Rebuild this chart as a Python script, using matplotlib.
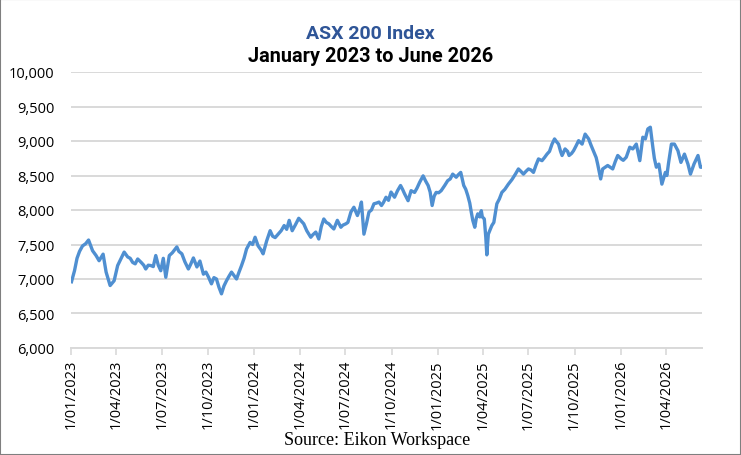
import matplotlib
matplotlib.use("Agg")
import matplotlib.pyplot as plt
import matplotlib.dates as mdates
from matplotlib.ticker import FuncFormatter, MultipleLocator
from matplotlib.patches import Rectangle
import pandas as pd

# ASX 200 closes, days counted from 1 Jan 2023
start = pd.Timestamp("2023-01-01")

day_offset = [
    1, 7, 12, 17, 23, 29, 35, 43, 50, 56, 64, 70, 74, 78, 86, 93, 100, 106,
    113, 118, 123, 128, 133, 140, 145, 149, 154, 159, 164, 169, 174, 179, 184,
    189, 196, 202, 211, 215, 221, 227, 234, 239, 244, 251, 257, 264, 269, 274,
    280, 285, 290, 295, 300, 305, 310, 315, 320, 325, 330, 335, 340, 345, 350,
    357, 362,
    367, 373, 379, 383, 390, 397, 402, 407, 413, 419, 425, 430, 435, 441, 447,
    454, 459, 464, 470, 478, 482, 488, 494, 499, 504, 509, 514, 519, 524, 531,
    538, 542, 548, 552, 558, 564, 571, 575, 579, 584, 589, 594, 599, 604, 609,
    614, 619, 623, 628, 633, 638, 645, 651, 657, 661, 665, 672, 678, 685, 690,
    695, 702, 707, 712, 716, 720, 724, 728,
    733, 738, 745, 751, 756, 761, 768, 772, 777, 780, 783, 787, 791, 795, 798,
    801, 805, 808, 811, 815, 818, 820, 824, 827, 829, 832, 839, 843, 849, 854,
    859, 865, 872, 879, 886, 892, 897, 902, 907, 912, 917, 922, 927, 932, 939,
    944, 949, 954, 959, 964, 968, 972, 976, 979, 985, 990, 993, 998, 1002,
    1007, 1012, 1019, 1025, 1032, 1037, 1044, 1047, 1050, 1056, 1060, 1065,
    1070, 1075, 1080, 1085, 1090,
    1097, 1101, 1107, 1114, 1120, 1127, 1134, 1140, 1145, 1150, 1155, 1160,
    1163, 1167, 1172, 1178, 1185, 1188, 1191, 1197, 1203, 1210, 1216, 1223,
    1230, 1235, 1242, 1250, 1255, 1258,
]

asx200 = [
    6960, 7120, 7300, 7400, 7480, 7510, 7565, 7410, 7340, 7265, 7360, 7100,
    7000, 6905, 6975, 7195, 7300, 7390, 7320, 7300, 7240, 7220, 7290, 7240,
    7200, 7145, 7200, 7195, 7180, 7340, 7200, 7120, 7300, 7025, 7340, 7380,
    7465, 7400, 7365, 7250, 7145, 7220, 7305, 7175, 7260, 7070, 7100, 7030,
    6930, 7020, 7000, 6880, 6785, 6900, 6975, 7040, 7100, 7050, 7000, 7100,
    7195, 7300, 7435, 7530, 7500,
    7605, 7480, 7420, 7365, 7550, 7700, 7620, 7600, 7650, 7700, 7775, 7720,
    7850, 7700, 7780, 7880, 7840, 7800, 7700, 7605, 7640, 7680, 7580, 7760,
    7870, 7820, 7800, 7760, 7725, 7850, 7750, 7780, 7800, 7820, 7970, 8040,
    7920, 8000, 8115, 7650, 7800, 7970, 8000, 8090, 8100, 8115, 8065, 8110,
    8185, 8140, 8260, 8185, 8280, 8355, 8300, 8235, 8135, 8280, 8255, 8320,
    8400, 8495, 8420, 8355, 8260, 8065, 8200, 8255,
    8250, 8280, 8355, 8425, 8450, 8520, 8475, 8510, 8545, 8450, 8355, 8300,
    8210, 8100, 7970, 7850, 7750, 7880, 7945, 7900, 7990, 7900, 7870, 7600,
    7350, 7650, 7775, 7820, 8090, 8160, 8255, 8300, 8375, 8440, 8520, 8595,
    8560, 8520, 8560, 8595, 8580, 8545, 8650, 8740, 8715, 8760, 8810, 8850,
    8955, 9030, 8990, 8955, 8850, 8790, 8885, 8850, 8790, 8820, 8860, 8930,
    9005, 8955, 9100, 9030, 8935, 8810, 8760, 8665, 8450, 8595, 8620, 8645,
    8620, 8595, 8700, 8790,
    8740, 8720, 8765, 8910, 8885, 8955, 8715, 9055, 9030, 9175, 9200, 8910,
    8750, 8620, 8665, 8375, 8545, 8500, 8665, 8955, 8955, 8860, 8690, 8810,
    8665, 8520, 8665, 8790, 8620, 8620,
]

dates = start + pd.to_timedelta(day_offset, unit="D")

W, H = 741, 456
fig = plt.figure(figsize=(W / 100, H / 100), dpi=100)
fig.patch.set_facecolor("white")

ax = fig.add_axes([71 / W, 1 - 349 / H, 631 / W, 276 / H])

grid_col = "#D9D9D9"
ax.plot(dates, asx200, color="#4F8FD1", linewidth=2.4, solid_joinstyle="round", zorder=3)

ax.set_ylim(6000, 10000)
ax.set_xlim(start, start + pd.Timedelta(days=1258))

ax.yaxis.set_major_locator(MultipleLocator(500))
ax.yaxis.set_major_formatter(FuncFormatter(lambda v, p: f"{v:,.0f}"))
ax.grid(True, axis="y", color=grid_col, linewidth=1.4, zorder=0)
ax.set_axisbelow(True)

ax.xaxis.set_major_locator(mdates.MonthLocator(bymonth=[1, 4, 7, 10]))
ax.xaxis.set_major_formatter(FuncFormatter(
    lambda v, p: (lambda d: f"{d.day}/{d.month:02d}/{d.year}")(mdates.num2date(v))))

for s in ["top", "right", "left"]:
    ax.spines[s].set_visible(False)
ax.spines["bottom"].set_color(grid_col)
ax.spines["bottom"].set_linewidth(1.4)

tick_font = ["Open Sans", "DejaVu Sans"]
ax.tick_params(axis="y", length=0, pad=12, labelsize=10.5, labelcolor="black")
ax.tick_params(axis="x", length=5, width=1.2, color=grid_col, pad=3,
               labelsize=10.5, labelrotation=90)
for lab in ax.get_xticklabels() + ax.get_yticklabels():
    lab.set_family(tick_font)

title_font = ["Roboto", "DejaVu Sans"]
fig.text(0.5, 1 - 34 / H, "ASX 200 Index", ha="center", va="center",
         fontsize=14, fontweight="bold", color="#2F5597", family=title_font)
fig.text(0.5, 1 - 57 / H, "January 2023 to June 2026", ha="center", va="center",
         fontsize=14.3, fontweight="bold", color="black", family=title_font)

fig.text(377 / W, 1 - 441 / H, "Source: Eikon Workspace", ha="center", va="center",
         fontsize=13, color="black", family=["Liberation Serif", "DejaVu Serif"])

# thin grey frame round the whole picture
fig.patches.append(Rectangle((0, 0), 1, 1, transform=fig.transFigure, fill=False,
                             edgecolor="#7F7F7F", linewidth=1.5))

fig.savefig("out.png", dpi=100)
